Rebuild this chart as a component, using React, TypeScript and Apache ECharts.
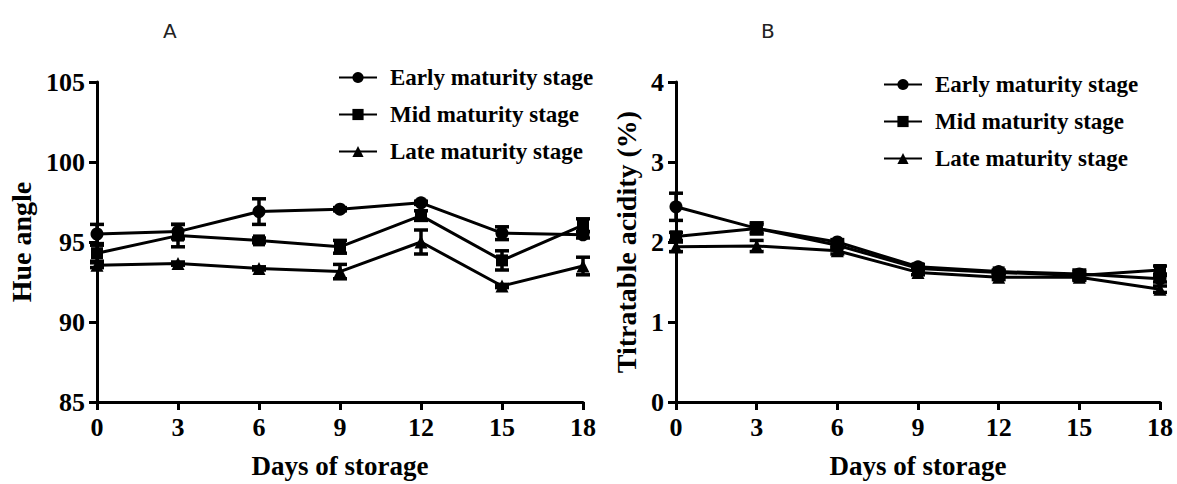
import React, { useEffect, useRef } from "react";
import * as echarts from "echarts";

const days = [0, 3, 6, 9, 12, 15, 18];
const seriesNames = ["Early maturity stage", "Mid maturity stage", "Late maturity stage"];
const symbols = ["circle", "rect", "triangle"];

// Panel A: Hue angle
const hueEarly = [95.5, 95.65, 96.9, 97.05, 97.45, 95.55, 95.45];
const hueEarlyErr = [0.6, 0.45, 0.8, 0.1, 0.1, 0.4, 0.2];
const hueMid = [94.3, 95.4, 95.1, 94.7, 96.65, 93.85, 96.05];
const hueMidErr = [0.5, 0.7, 0.15, 0.4, 0.3, 0.6, 0.4];
const hueLate = [93.55, 93.65, 93.35, 93.15, 95.0, 92.25, 93.5];
const hueLateErr = [0.15, 0.1, 0.1, 0.45, 0.75, 0.1, 0.55];

// Panel B: Titratable acidity (%)
const taEarly = [2.44, 2.17, 2.0, 1.69, 1.63, 1.6, 1.54];
const taEarlyErr = [0.17, 0.05, 0.03, 0.03, 0.02, 0.05, 0.04];
const taMid = [2.07, 2.17, 1.96, 1.67, 1.62, 1.58, 1.65];
const taMidErr = [0.05, 0.07, 0.03, 0.02, 0.02, 0.05, 0.05];
const taLate = [1.94, 1.95, 1.89, 1.62, 1.56, 1.56, 1.41];
const taLateErr = [0.06, 0.07, 0.04, 0.03, 0.03, 0.04, 0.04];

const hueTicks = { min: 85, max: 105, interval: 5 };
const taTicks = { min: 0, max: 4, interval: 1 };
const dayTicks = { min: 0, max: 18, interval: 3 };

const SERIF = "'Liberation Serif', 'Times New Roman', serif";
const BLACK = "#000";

function errData(vals: number[], errs: number[]) {
  return vals.map((v, i) => [days[i], v - errs[i], v + errs[i]]);
}

function errSeries(vals: number[], errs: number[], idx: number) {
  return {
    type: "custom",
    xAxisIndex: idx,
    yAxisIndex: idx,
    silent: true,
    z: 3,
    data: errData(vals, errs),
    renderItem: (params: any, api: any) => {
      const x = api.value(0);
      const lo = api.coord([x, api.value(1)]);
      const hi = api.coord([x, api.value(2)]);
      const w = 7;
      const style = { stroke: BLACK, lineWidth: 3.5, fill: "none" };
      return {
        type: "group",
        children: [
          { type: "line", shape: { x1: lo[0], y1: lo[1], x2: hi[0], y2: hi[1] }, style },
          { type: "line", shape: { x1: lo[0] - w, y1: lo[1], x2: lo[0] + w, y2: lo[1] }, style },
          { type: "line", shape: { x1: hi[0] - w, y1: hi[1], x2: hi[0] + w, y2: hi[1] }, style },
        ],
      };
    },
  };
}

function lineSeries(name: string, vals: number[], idx: number, sIdx: number) {
  return {
    type: "line",
    name,
    xAxisIndex: idx,
    yAxisIndex: idx,
    z: 4,
    data: vals.map((v, i) => [days[i], v]),
    symbol: symbols[sIdx],
    symbolSize: sIdx === 1 ? 12 : 13,
    showSymbol: true,
    itemStyle: { color: BLACK },
    lineStyle: { color: BLACK, width: 3 },
  };
}

function xAxisDef(idx: number) {
  return {
    type: "value",
    gridIndex: idx,
    ...dayTicks,
    name: "Days of storage",
    nameLocation: "middle",
    nameGap: 50,
    nameTextStyle: { fontFamily: SERIF, fontWeight: "bold", fontSize: 27, color: BLACK },
    axisLine: { show: true, onZero: false, lineStyle: { color: BLACK, width: 3 } },
    axisTick: { show: true, length: 8, lineStyle: { color: BLACK, width: 3 } },
    axisLabel: { fontFamily: SERIF, fontWeight: "bold", fontSize: 26, color: BLACK, margin: 12 },
    splitLine: { show: false },
  };
}

function yAxisDef(idx: number, ticks: any, name: string, gap: number) {
  return {
    type: "value",
    gridIndex: idx,
    ...ticks,
    name,
    nameLocation: "middle",
    nameGap: gap,
    nameTextStyle: { fontFamily: SERIF, fontWeight: "bold", fontSize: 28, color: BLACK },
    axisLine: { show: true, onZero: false, lineStyle: { color: BLACK, width: 3 } },
    axisTick: { show: true, length: 8, lineStyle: { color: BLACK, width: 3 } },
    axisLabel: { fontFamily: SERIF, fontWeight: "bold", fontSize: 26, color: BLACK, margin: 12 },
    splitLine: { show: false },
  };
}

function legendDef(left: number, top: number) {
  return {
    left,
    top,
    orient: "vertical",
    itemWidth: 38,
    itemHeight: 14,
    itemGap: 14,
    data: seriesNames,
    selectedMode: false,
    textStyle: { fontFamily: SERIF, fontWeight: "bold", fontSize: 23, color: BLACK, lineHeight: 23, padding: [0, 0, 0, 8] },
  };
}

export default function App() {
  const ref = useRef<HTMLDivElement>(null);
  useEffect(() => {
    if (!ref.current) return;
    const chart = echarts.init(ref.current, undefined, { renderer: "svg" });
    const hueVals = [hueEarly, hueMid, hueLate];
    const hueErrs = [hueEarlyErr, hueMidErr, hueLateErr];
    const taVals = [taEarly, taMid, taLate];
    const taErrs = [taEarlyErr, taMidErr, taLateErr];
    const series: any[] = [];
    for (let s = 0; s < 3; s++) {
      series.push(errSeries(hueVals[s], hueErrs[s], 0));
      series.push(lineSeries(seriesNames[s], hueVals[s], 0, s));
      series.push(errSeries(taVals[s], taErrs[s], 1));
      series.push(lineSeries(seriesNames[s], taVals[s], 1, s));
    }
    chart.setOption({
      animation: false,
      backgroundColor: "#fff",
      title: [
        { text: "A", left: 158, top: 16, textStyle: { fontFamily: "'DejaVu Sans', sans-serif", fontWeight: "normal", fontSize: 20, color: "#222" } },
        { text: "B", left: 756, top: 16, textStyle: { fontFamily: "'DejaVu Sans', sans-serif", fontWeight: "normal", fontSize: 20, color: "#222" } },
      ],
      grid: [
        { left: 97, top: 82, width: 486, height: 326 },
        { left: 676, top: 82, width: 484, height: 326 },
      ],
      xAxis: [xAxisDef(0), xAxisDef(1)],
      yAxis: [yAxisDef(0, hueTicks, "Hue angle", 62), yAxisDef(1, taTicks, "Titratable acidity (%)", 36)],
      legend: [legendDef(333, 61), legendDef(878, 68)],
      series,
    });
    return () => chart.dispose();
  }, []);
  return (
    <div
      ref={ref}
      style={{ position: "fixed", left: 0, top: 0, width: 1177, height: 484, background: "#fff" }}
    />
  );
}
